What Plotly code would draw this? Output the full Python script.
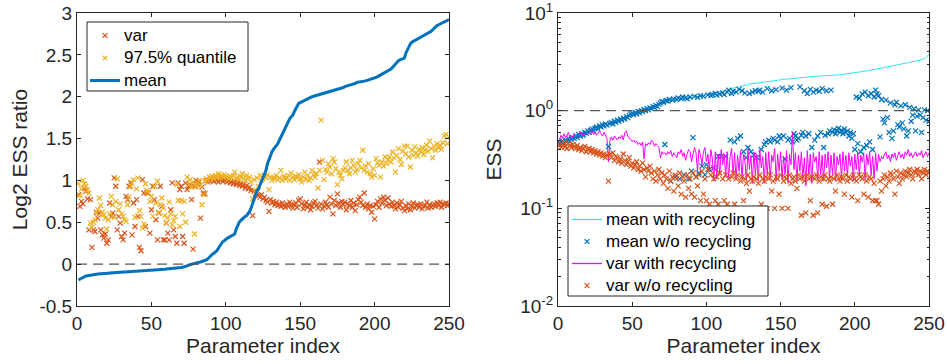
import plotly.graph_objects as go

# ---------------- data ----------------
param_index = list(range(1, 251))

# Left panel: log2 ESS ratio
var_ratio = [
 0.83,0.69,0.75,0.72,0.91,0.87,0.78,0.41,0.77,0.20,
 0.41,0.39,0.62,0.55,0.61,0.41,0.35,0.31,0.36,0.25,
 0.29,0.73,0.57,0.61,1.03,0.93,0.41,0.57,0.49,0.33,
 0.29,0.37,0.81,0.77,0.93,0.97,0.35,0.73,0.45,0.77,
 0.57,0.20,0.16,1.01,0.85,0.45,0.85,0.85,0.37,0.65,
 0.93,0.77,0.53,0.29,0.61,0.93,0.69,0.29,0.29,0.49,
 0.37,0.29,0.65,0.97,0.41,0.33,0.25,0.97,0.89,0.93,
 0.33,0.25,0.97,0.89,0.93,0.95,0.77,0.18,0.93,1.00,
 0.95,0.98,0.55,0.92,0.85,0.84,1.00,0.98,1.00,1.02,
 1.01,0.99,1.02,1.00,0.98,1.01,1.03,0.99,1.00,1.02,
 0.98,1.00,0.97,0.99,0.96,0.98,0.95,0.97,0.94,0.96,
 0.93,0.95,0.91,0.94,0.90,0.92,0.88,0.58,0.87,0.84,
 0.86,0.82,0.80,0.83,0.78,0.80,0.76,0.74,0.63,0.77,
 0.73,0.75,0.71,0.74,0.70,0.72,0.69,0.73,0.70,0.68,
 0.72,0.69,0.74,0.70,0.67,0.71,0.73,0.68,0.76,0.78,
 0.72,0.66,0.70,0.74,0.68,0.71,0.65,0.69,0.73,0.75,
 0.70,0.67,1.22,0.72,0.66,0.69,0.74,0.71,0.68,0.80,
 0.72,0.60,0.76,0.70,0.84,0.73,0.68,0.75,0.71,0.74,
 0.65,0.72,0.70,0.76,0.68,0.73,0.64,0.71,0.77,0.80,
 0.74,0.70,0.85,0.68,0.72,0.66,0.70,0.62,0.69,0.54,
 0.71,0.75,0.68,0.78,0.73,0.80,0.76,0.70,0.79,0.72,
 0.69,0.74,0.70,0.66,0.73,0.68,0.71,0.75,0.67,0.64,
 0.70,0.66,0.72,0.65,0.69,0.73,0.67,0.70,0.71,0.68,
 0.72,0.66,0.69,0.70,0.74,0.67,0.71,0.68,0.70,0.72,
 0.69,0.73,0.70,0.74,0.68,0.72,0.71,0.73,0.70,0.72]

quantile_ratio = [
 0.96,0.82,0.90,1.00,0.96,0.93,0.89,0.85,0.49,0.44,
 0.50,0.53,0.61,0.65,0.79,0.70,0.62,0.59,0.55,0.42,
 0.53,0.60,0.81,0.71,0.56,0.75,1.02,0.65,0.72,0.60,
 0.57,0.53,0.51,0.71,0.80,0.93,0.97,1.01,0.56,0.90,
 1.03,0.64,0.57,0.43,0.48,0.96,0.88,0.85,0.75,0.81,
 0.57,0.93,0.73,0.99,0.62,0.71,0.79,0.67,0.58,0.49,
 0.55,0.74,0.60,0.47,0.52,0.57,0.95,0.76,0.45,0.76,
 0.60,0.75,0.50,1.04,0.95,1.01,0.92,0.98,0.36,0.93,
 0.97,1.00,0.94,0.71,0.83,0.99,1.02,1.00,1.04,1.03,
 1.05,1.02,1.06,1.04,1.08,1.03,1.06,1.04,1.07,1.05,
 1.04,1.02,1.05,1.03,1.06,1.10,1.02,1.04,1.01,1.05,
 1.08,1.03,1.00,1.06,1.02,1.04,0.98,0.78,1.01,0.88,
 1.03,0.93,1.06,1.00,1.02,1.05,1.03,1.07,0.89,1.04,
 1.00,1.04,1.02,1.06,1.01,1.03,1.12,1.00,1.05,1.02,
 1.03,1.06,1.00,1.09,1.04,1.01,1.05,1.03,1.07,1.02,
 0.98,1.04,1.10,1.01,1.06,1.00,1.03,1.12,1.07,1.04,
 1.08,0.91,1.12,1.72,1.24,1.01,1.13,1.10,1.20,1.16,
 1.08,1.26,1.22,1.14,0.95,1.10,1.06,1.02,1.12,1.15,
 1.22,1.12,1.08,1.15,1.24,1.18,1.10,1.13,1.20,1.24,
 1.15,1.36,1.12,1.17,1.10,1.20,1.08,1.04,1.14,1.06,
 1.26,1.21,1.18,1.04,1.22,1.17,1.28,1.20,1.25,1.28,
 1.22,1.34,1.27,1.10,1.30,1.38,1.25,1.19,1.35,1.41,
 1.32,1.41,1.28,1.16,1.36,1.30,1.40,1.33,1.29,1.37,
 1.34,1.39,1.31,1.36,1.42,1.35,1.47,1.38,1.27,1.41,
 1.36,1.44,1.39,1.42,1.37,1.45,1.53,1.55,1.44,1.52]

mean_ratio = [
 -0.190,-0.180,-0.165,-0.155,-0.148,-0.142,-0.138,-0.134,-0.131,-0.128,
 -0.125,-0.123,-0.121,-0.119,-0.117,-0.115,-0.113,-0.112,-0.110,-0.109,
 -0.107,-0.106,-0.104,-0.103,-0.102,-0.100,-0.099,-0.098,-0.097,-0.096,
 -0.095,-0.094,-0.093,-0.092,-0.091,-0.090,-0.089,-0.088,-0.087,-0.086,
 -0.085,-0.084,-0.083,-0.082,-0.081,-0.079,-0.078,-0.076,-0.075,-0.073,
 -0.072,-0.070,-0.069,-0.067,-0.066,-0.064,-0.063,-0.061,-0.060,-0.058,
 -0.057,-0.055,-0.054,-0.052,-0.050,-0.048,-0.046,-0.044,-0.042,-0.040,
 -0.037,-0.034,-0.028,-0.020,-0.012,-0.006,0.000,0.005,0.010,0.014,
 0.018,0.022,0.026,0.030,0.035,0.040,0.050,0.065,0.085,0.105,
 0.120,0.130,0.140,0.160,0.190,0.220,0.250,0.270,0.280,0.300,
 0.310,0.320,0.330,0.340,0.340,0.360,0.420,0.470,0.500,0.520,
 0.540,0.550,0.570,0.580,0.600,0.630,0.670,0.720,0.780,0.840,
 0.880,0.900,0.940,0.980,1.020,1.060,1.120,1.200,1.250,1.300,
 1.340,1.370,1.390,1.410,1.440,1.480,1.520,1.560,1.600,1.640,
 1.680,1.710,1.740,1.760,1.780,1.820,1.860,1.900,1.920,1.930,
 1.940,1.950,1.960,1.970,1.980,1.985,1.990,2.000,2.005,2.010,
 2.015,2.020,2.025,2.030,2.035,2.040,2.045,2.050,2.055,2.060,
 2.065,2.070,2.075,2.080,2.085,2.090,2.095,2.100,2.110,2.120,
 2.125,2.130,2.135,2.140,2.145,2.150,2.160,2.170,2.175,2.180,
 2.182,2.184,2.186,2.190,2.195,2.200,2.205,2.210,2.215,2.220,
 2.230,2.240,2.250,2.260,2.270,2.280,2.290,2.300,2.310,2.320,
 2.330,2.350,2.370,2.390,2.420,2.430,2.440,2.450,2.455,2.460,
 2.520,2.560,2.600,2.630,2.650,2.660,2.670,2.680,2.690,2.700,
 2.705,2.710,2.720,2.730,2.740,2.750,2.760,2.780,2.800,2.820,
 2.840,2.850,2.860,2.870,2.880,2.890,2.900,2.905,2.910,2.920]

# Right panel: ESS
mean_recyc = [
 0.46,0.47,0.47,0.48,0.49,0.50,0.50,0.51,0.52,0.53,
 0.54,0.54,0.55,0.56,0.57,0.58,0.58,0.59,0.60,0.61,
 0.62,0.63,0.63,0.64,0.65,0.66,0.67,0.68,0.69,0.70,
 0.71,0.72,0.72,0.73,0.74,0.75,0.76,0.77,0.78,0.79,
 0.80,0.81,0.82,0.83,0.84,0.85,0.86,0.87,0.89,0.90,
 0.91,0.92,0.93,0.94,0.95,0.96,0.97,0.99,1.00,1.02,
 1.03,1.05,1.06,1.08,1.10,1.12,1.13,1.15,1.17,1.19,
 1.20,1.22,1.23,1.25,1.26,1.27,1.28,1.29,1.30,1.31,
 1.31,1.32,1.32,1.33,1.33,1.34,1.34,1.35,1.35,1.36,
 1.37,1.38,1.38,1.39,1.40,1.41,1.42,1.43,1.44,1.45,
 1.46,1.47,1.48,1.49,1.50,1.51,1.53,1.54,1.55,1.57,
 1.58,1.60,1.61,1.63,1.65,1.66,1.68,1.70,1.71,1.73,
 1.75,1.76,1.78,1.79,1.81,1.82,1.84,1.85,1.87,1.88,
 1.89,1.90,1.91,1.92,1.93,1.94,1.95,1.96,1.97,1.98,
 1.99,2.00,2.01,2.02,2.03,2.04,2.05,2.06,2.07,2.09,
 2.09,2.10,2.10,2.11,2.11,2.12,2.12,2.13,2.13,2.14,
 2.15,2.16,2.17,2.17,2.18,2.19,2.20,2.21,2.22,2.23,
 2.23,2.24,2.24,2.25,2.25,2.26,2.26,2.27,2.27,2.28,
 2.28,2.29,2.29,2.30,2.30,2.31,2.31,2.32,2.32,2.33,
 2.34,2.35,2.36,2.37,2.38,2.39,2.40,2.41,2.42,2.43,
 2.44,2.45,2.47,2.48,2.50,2.51,2.53,2.55,2.56,2.58,
 2.60,2.62,2.64,2.66,2.68,2.70,2.72,2.74,2.76,2.78,
 2.80,2.82,2.84,2.86,2.88,2.90,2.92,2.94,2.96,2.98,
 3.00,3.02,3.04,3.06,3.08,3.10,3.12,3.14,3.16,3.19,
 3.21,3.24,3.26,3.29,3.32,3.36,3.42,3.50,3.62,3.80]

mean_norecyc = [
 0.47,0.45,0.49,0.46,0.50,0.48,0.52,0.49,0.51,0.53,
 0.52,0.55,0.53,0.57,0.55,0.58,0.56,0.60,0.59,0.62,
 0.60,0.63,0.65,0.62,0.66,0.68,0.65,0.70,0.68,0.72,
 0.70,0.73,0.71,0.43,0.74,0.76,0.73,0.78,0.76,0.80,
 0.78,0.82,0.80,0.84,0.82,0.87,0.85,0.89,0.92,0.94,
 0.91,0.96,0.93,0.98,0.95,1.00,0.98,1.03,1.00,1.05,
 1.02,1.07,1.05,1.10,1.08,1.13,1.10,1.16,1.20,1.24,
 1.22,0.45,1.27,1.25,1.30,0.19,1.28,1.32,0.21,1.30,
 1.35,0.20,1.33,1.38,0.22,1.36,1.32,0.20,1.38,0.24,
 0.53,1.40,0.21,1.37,0.23,1.42,0.27,1.40,0.22,0.28,
 1.45,0.25,1.43,1.47,0.26,1.50,1.44,0.34,1.48,0.34,
 1.52,1.46,0.34,1.55,1.62,0.50,1.50,1.58,0.48,1.56,
 0.52,1.65,0.55,1.60,0.38,1.52,0.33,0.42,1.50,0.38,
 1.55,0.35,1.60,0.33,1.58,1.62,0.40,1.55,0.45,0.48,
 1.68,0.50,0.48,1.60,0.52,0.50,1.64,0.48,0.55,0.52,
 1.70,0.55,0.32,1.62,0.50,0.52,1.72,0.48,0.58,0.55,
 0.50,0.52,1.75,0.56,0.60,1.60,0.55,1.50,0.58,1.65,
 0.42,1.55,0.50,1.62,0.55,1.58,0.60,1.68,0.42,0.56,
 1.60,0.58,0.62,1.62,0.60,0.64,0.58,0.62,0.66,0.60,
 0.63,0.58,0.65,0.60,0.62,0.55,0.60,0.52,0.58,0.40,
 1.38,0.46,1.34,0.38,1.48,0.42,1.55,0.44,1.42,0.48,
 1.50,0.40,1.38,1.62,1.48,1.42,0.54,1.30,0.82,0.75,
 1.28,0.85,0.60,1.20,0.52,0.62,1.15,1.22,0.72,0.68,
 1.12,0.75,0.65,1.15,0.55,0.62,1.08,0.78,0.90,1.05,
 0.62,0.88,1.02,0.90,0.60,0.85,1.02,0.80,1.00,0.78]

var_recyc = [
 0.50,0.56,0.52,0.58,0.53,0.55,0.60,0.54,0.52,0.56,
 0.58,0.54,0.57,0.55,0.60,0.56,0.58,0.55,0.59,0.57,
 0.60,0.58,0.62,0.57,0.60,0.56,0.59,0.62,0.58,0.55,
 0.60,0.56,0.52,0.30,0.50,0.54,0.50,0.55,0.52,0.50,
 0.54,0.52,0.56,0.50,0.60,0.62,0.55,0.52,0.50,0.48,
 0.50,0.47,0.49,0.45,0.47,0.44,0.48,0.32,0.46,0.44,
 0.47,0.45,0.50,0.48,0.43,0.46,0.44,0.42,0.33,0.38,
 0.36,0.37,0.35,0.38,0.36,0.39,0.34,0.37,0.35,0.33,
 0.38,0.36,0.40,0.34,0.37,0.31,0.36,0.40,0.38,0.30,
 0.36,0.42,0.37,0.24,0.40,0.35,0.28,0.38,0.42,0.30,
 0.36,0.25,0.40,0.32,0.19,0.38,0.20,0.36,0.22,0.40,
 0.28,0.36,0.21,0.38,0.20,0.34,0.41,0.22,0.37,0.20,
 0.35,0.24,0.39,0.20,0.36,0.30,0.19,0.40,0.25,0.35,
 0.18,0.38,0.22,0.36,0.19,0.40,0.26,0.34,0.18,0.37,
 0.22,0.38,0.20,0.35,0.30,0.41,0.19,0.36,0.24,0.38,
 0.20,0.34,0.22,0.39,0.18,0.36,0.28,0.60,0.25,0.37,
 0.19,0.35,0.24,0.38,0.20,0.33,0.17,0.39,0.22,0.36,
 0.18,0.37,0.30,0.34,0.20,0.38,0.22,0.35,0.19,0.36,
 0.26,0.38,0.20,0.35,0.22,0.37,0.19,0.34,0.28,0.36,
 0.20,0.38,0.24,0.35,0.21,0.37,0.27,0.34,0.19,0.36,
 0.25,0.38,0.22,0.35,0.30,0.37,0.20,0.36,0.28,0.38,
 0.22,0.34,0.20,0.37,0.24,0.36,0.30,0.34,0.32,0.36,
 0.38,0.32,0.35,0.30,0.36,0.33,0.37,0.31,0.35,0.38,
 0.33,0.36,0.32,0.38,0.35,0.40,0.34,0.37,0.33,0.36,
 0.38,0.34,0.37,0.35,0.39,0.33,0.36,0.38,0.34,0.37]

var_norecyc = [
 0.45,0.42,0.44,0.47,0.43,0.41,0.46,0.44,0.42,0.45,
 0.43,0.41,0.44,0.40,0.42,0.39,0.41,0.43,0.38,0.40,
 0.41,0.38,0.40,0.37,0.39,0.36,0.38,0.35,0.37,0.34,
 0.36,0.33,0.35,0.19,0.36,0.33,0.37,0.31,0.34,0.33,
 0.30,0.32,0.29,0.36,0.31,0.28,0.30,0.33,0.27,0.29,
 0.26,0.28,0.30,0.25,0.27,0.24,0.29,0.25,0.21,0.26,
 0.24,0.27,0.23,0.20,0.24,0.19,0.22,0.25,0.20,0.23,
 0.18,0.22,0.20,0.16,0.24,0.19,0.21,0.15,0.22,0.20,
 0.17,0.23,0.14,0.21,0.19,0.13,0.22,0.16,0.20,0.14,
 0.23,0.13,0.21,0.17,0.22,0.12,0.24,0.14,0.20,0.12,
 0.25,0.11,0.22,0.10,0.20,0.12,0.21,0.11,0.23,0.10,
 0.20,0.12,0.22,0.11,0.20,0.10,0.21,0.23,0.11,0.20,
 0.22,0.10,0.19,0.21,0.12,0.20,0.18,0.22,0.15,0.20,
 0.19,0.21,0.10,0.20,0.18,0.22,0.11,0.20,0.19,0.21,
 0.10,0.20,0.22,0.15,0.19,0.10,0.21,0.20,0.14,0.22,
 0.10,0.19,0.21,0.20,0.10,0.22,0.18,0.20,0.21,0.19,
 0.16,0.22,0.20,0.085,0.21,0.19,0.09,0.22,0.20,0.12,
 0.21,0.085,0.20,0.22,0.09,0.19,0.21,0.11,0.20,0.22,
 0.105,0.20,0.19,0.21,0.11,0.20,0.15,0.22,0.20,0.19,
 0.21,0.20,0.14,0.22,0.19,0.21,0.20,0.13,0.22,0.20,
 0.19,0.12,0.22,0.21,0.20,0.14,0.22,0.19,0.13,0.21,
 0.20,0.12,0.18,0.12,0.12,0.11,0.19,0.15,0.20,0.22,
 0.17,0.21,0.19,0.23,0.22,0.20,0.14,0.24,0.21,0.18,
 0.23,0.20,0.22,0.24,0.21,0.23,0.25,0.22,0.20,0.24,
 0.23,0.25,0.22,0.24,0.20,0.23,0.25,0.22,0.24,0.23]

x_ticks = [0, 50, 100, 150, 200, 250]
left_y_ticks = [-0.5, 0, 0.5, 1, 1.5, 2, 2.5, 3]
left_y_labels = ["-0.5", "0", "0.5", "1", "1.5", "2", "2.5", "3"]
right_y_ticks = [0.01, 0.1, 1, 10]
right_y_labels = ["10<sup>-2</sup>", "10<sup>-1</sup>", "10<sup>0</sup>", "10<sup>1</sup>"]
right_minor_ticks = [0.02, 0.03, 0.04, 0.05, 0.06, 0.07, 0.08, 0.09,
                     0.2, 0.3, 0.4, 0.5, 0.6, 0.7, 0.8, 0.9,
                     2, 3, 4, 5, 6, 7, 8, 9]
x_range = [0, 250]
left_ref = 0
right_ref = 1

left_legend_names = ["var", "97.5% quantile", "mean"]
right_legend_names = ["mean with recycling", "mean w/o recycling",
                      "var with recycling", "var w/o recycling"]

# ---------------- style ----------------
BLUE = "#0072BD"
ORANGE = "#D95319"
YELLOW = "#EDB120"
CYAN = "#2EE6E6"
MAGENTA = "#FF00FF"
AX = "#262626"
FONT = "Liberation Sans, Arial, Helvetica, sans-serif"
DASH = "10px,6px"
W, H = 947, 364

fig = go.Figure()

def xmark(color):
    return dict(symbol="x-thin", size=5, color=color, line=dict(color=color, width=1.2))

# Left panel
fig.add_trace(go.Scatter(x=param_index, y=var_ratio, mode="markers", name=left_legend_names[0],
                         marker=xmark(ORANGE), xaxis="x", yaxis="y", showlegend=False))
fig.add_trace(go.Scatter(x=param_index, y=quantile_ratio, mode="markers", name=left_legend_names[1],
                         marker=xmark(YELLOW), xaxis="x", yaxis="y", showlegend=False))
fig.add_trace(go.Scatter(x=param_index, y=mean_ratio, mode="lines", name=left_legend_names[2],
                         line=dict(color=BLUE, width=3), xaxis="x", yaxis="y", showlegend=False))
fig.add_trace(go.Scatter(x=x_range, y=[left_ref, left_ref], mode="lines", showlegend=False,
                         line=dict(color="#555555", width=1.3, dash=DASH), xaxis="x", yaxis="y"))

# Right panel
fig.add_trace(go.Scatter(x=param_index, y=mean_recyc, mode="lines", name=right_legend_names[0],
                         line=dict(color=CYAN, width=1), xaxis="x2", yaxis="y2", showlegend=False))
fig.add_trace(go.Scatter(x=param_index, y=mean_norecyc, mode="markers", name=right_legend_names[1],
                         marker=xmark(BLUE), xaxis="x2", yaxis="y2", showlegend=False))
fig.add_trace(go.Scatter(x=param_index, y=var_recyc, mode="lines", name=right_legend_names[2],
                         line=dict(color=MAGENTA, width=1), xaxis="x2", yaxis="y2", showlegend=False))
fig.add_trace(go.Scatter(x=param_index, y=var_norecyc, mode="markers", name=right_legend_names[3],
                         marker=xmark(ORANGE), xaxis="x2", yaxis="y2", showlegend=False))
fig.add_trace(go.Scatter(x=x_range, y=[right_ref, right_ref], mode="lines", showlegend=False,
                         line=dict(color="#555555", width=1.3, dash=DASH), xaxis="x2", yaxis="y2"))

# ---------------- hand-built legends (MATLAB style, compact rows) ----------------
shapes, annotations = [], []

def px(x):
    return x / W

def py(y):
    return 1 - y / H

def legend_box(x0, y0, x1, y1, entries, row_y, sample_x0, sample_x1, text_x):
    shapes.append(dict(type="rect", xref="paper", yref="paper", layer="above",
                       x0=px(x0), x1=px(x1), y0=py(y1), y1=py(y0),
                       fillcolor="white", line=dict(color=AX, width=1)))
    for (name, kind, color, width), yy in zip(entries, row_y):
        if kind == "line":
            shapes.append(dict(type="line", xref="paper", yref="paper", layer="above",
                               x0=px(sample_x0), x1=px(sample_x1), y0=py(yy), y1=py(yy),
                               line=dict(color=color, width=width)))
        else:
            cx = (sample_x0 + sample_x1) / 2
            r = 2.4
            for sgn in (1, -1):
                shapes.append(dict(type="line", xref="paper", yref="paper", layer="above",
                                   x0=px(cx - r), x1=px(cx + r),
                                   y0=py(yy - sgn * r), y1=py(yy + sgn * r),
                                   line=dict(color=color, width=1.2)))
        annotations.append(dict(text=name, xref="paper", yref="paper", x=px(text_x), y=py(yy),
                                xanchor="left", yanchor="middle", showarrow=False,
                                font=dict(family=FONT, size=17, color="black")))

legend_box(87, 22, 248, 91,
           [(left_legend_names[0], "x", ORANGE, 1),
            (left_legend_names[1], "x", YELLOW, 1),
            (left_legend_names[2], "line", BLUE, 3)],
           [35.5, 58, 80.5], 90, 120, 122)

legend_box(568, 206, 768, 296,
           [(right_legend_names[0], "line", CYAN, 1.3),
            (right_legend_names[1], "x", BLUE, 1),
            (right_legend_names[2], "line", MAGENTA, 1.3),
            (right_legend_names[3], "x", ORANGE, 1)],
           [219.5, 241.5, 263.5, 285.5], 572, 602, 604)

axis_common = dict(showline=True, linecolor=AX, linewidth=1, mirror="ticks", ticks="inside",
                   ticklen=4, tickcolor=AX, tickwidth=1, showgrid=False, zeroline=False,
                   automargin=False, ticklabeloverflow="allow",
                   tickfont=dict(family=FONT, size=19, color=AX))
title_font = dict(family=FONT, size=21, color=AX)

fig.update_layout(
    width=W, height=H, margin=dict(l=0, r=0, t=0, b=0),
    paper_bgcolor="white", plot_bgcolor="white", showlegend=False,
    shapes=shapes, annotations=annotations,
    xaxis=dict(domain=[77/W, 449/W], range=x_range, tickvals=x_ticks,
               title=dict(text="Parameter index", font=title_font, standoff=5), anchor="y",
               **axis_common),
    yaxis=dict(domain=[1-306/H, 1-13/H], range=[-0.5, 3], tickvals=left_y_ticks,
               ticktext=left_y_labels,
               title=dict(text="Log2 ESS ratio", font=title_font, standoff=6), anchor="x",
               **axis_common),
    xaxis2=dict(domain=[558/W, 929/W], range=x_range, tickvals=x_ticks,
                title=dict(text="Parameter index", font=title_font, standoff=5), anchor="y2",
                **axis_common),
    yaxis2=dict(domain=[1-306/H, 1-13/H], type="log", range=[-2, 1],
                tickvals=right_y_ticks, ticktext=right_y_labels,
                minor=dict(tickmode="array", tickvals=right_minor_ticks, ticks="inside",
                           ticklen=2.5, tickcolor=AX, tickwidth=1, showgrid=False),
                title=dict(text="ESS", font=title_font, standoff=12), anchor="x2",
                **axis_common),
)

fig.write_html("out.html")
